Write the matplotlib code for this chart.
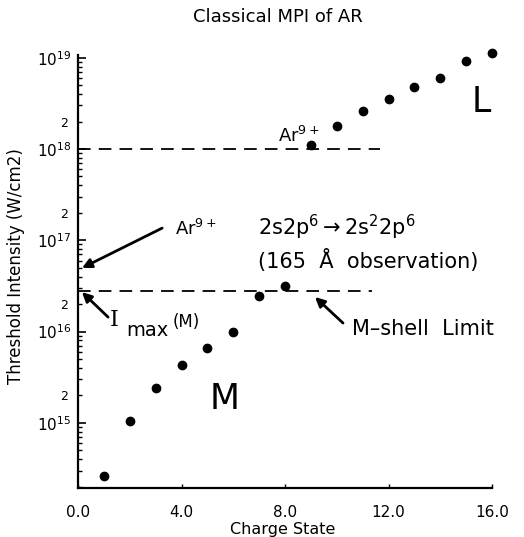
import numpy as np
import matplotlib
matplotlib.use("Agg")
import matplotlib.pyplot as plt
from matplotlib.ticker import FixedLocator, FuncFormatter, LogLocator

# Threshold intensity for each argon charge state
charge = [1, 2, 3, 4, 5, 6, 7, 8, 9, 10, 11, 12, 13, 14, 15, 16]
intensity = [2.6e14, 1.05e15, 2.4e15, 4.3e15, 6.6e15, 9.8e15, 2.45e16, 3.15e16,
             1.1e18, 1.8e18, 2.6e18, 3.5e18, 4.8e18, 6.0e18, 9.3e18, 1.12e19]

# horizontal dashed reference levels and where they stop
ref_levels = [1.0e18, 2.8e16]
ref_ends = [11.66, 11.35]

x_ticks = [0, 4, 8, 12, 16]
x_tick_labels = ["0.0", "4.0", "8.0", "12.0", "16.0"]

fig = plt.figure(figsize=(5.24, 5.37), dpi=100)
ax = fig.add_axes([0.149, 0.0912, 0.790, 0.8064])

ax.plot(charge, intensity, "o", color="black", markersize=6, clip_on=False)

for lev, end in zip(ref_levels, ref_ends):
    ax.plot([0, end], [lev, lev], color="black", lw=1.3, dashes=(7, 4.5))

ax.set_yscale("log")
ax.set_xlim(0, 16)
ax.set_ylim(10 ** 14.286, 10 ** 19.03)

ax.set_xticks(x_ticks)
ax.set_xticklabels(x_tick_labels)
ax.xaxis.set_tick_params(direction="in", length=3, width=1, pad=12, labelsize=11)

ax.yaxis.set_major_locator(FixedLocator([1e15, 1e16, 1e17, 1e18, 1e19]))
ax.yaxis.set_major_formatter(FuncFormatter(lambda v, p: r"$10^{%d}$" % round(np.log10(v))))
ax.yaxis.set_minor_locator(LogLocator(base=10, subs=np.arange(2, 10)))


def minor_label(v, p):
    m = v / 10 ** np.floor(np.log10(v) + 1e-9)
    if abs(m - 2) < 0.01 and v > 1e15:
        return "2"
    return ""


ax.yaxis.set_minor_formatter(FuncFormatter(minor_label))
ax.yaxis.set_tick_params(which="major", direction="in", length=6, width=1.2, pad=5, labelsize=11)
ax.yaxis.set_tick_params(which="minor", direction="in", length=3, width=1, pad=7, labelsize=9)

ax.spines[["top", "right"]].set_visible(False)
ax.spines[["left", "bottom"]].set_linewidth(1.6)

ax.set_xlabel("Charge State", fontsize=11.5)
ax.xaxis.set_label_coords(0.495, -0.078)
ax.set_ylabel("Threshold Intensity (W/cm2)", fontsize=12)
ax.yaxis.set_label_coords(-0.128, 0.513)

fig.text(0.53, 0.968, "Classical MPI of AR", ha="center", va="center", fontsize=13)

# annotations
ax.text(3.75, 1.14e17, r"Ar$^{9+}$", fontsize=13, va="baseline")
ax.text(6.96, 1.14e17, r"2s2p$^{6}$$\rightarrow$2s$^{2}$2p$^{6}$", fontsize=15, va="baseline")
ax.text(6.96, 4.97e16, "(165  Å  observation)", fontsize=15, va="baseline")
ax.text(10.59, 9.16e15, "M\u2013shell  Limit", fontsize=15, va="baseline")
ax.text(5.10, 1.42e15, "M", fontsize=25, va="baseline")
ax.text(15.23, 2.54e18, "L", fontsize=25, va="baseline")
ax.text(7.73, 1.19e18, r"Ar$^{9+}$", fontsize=13, va="baseline")
ax.text(1.24, 1.15e16, "I", fontsize=16, family="DejaVu Serif", va="baseline")
ax.text(1.85, 8.9e15, "max", fontsize=14, va="baseline")
ax.text(3.67, 1.12e16, "(M)", fontsize=12, va="baseline")

arrow = dict(arrowstyle="-|>", color="black", lw=2, mutation_scale=14, shrinkA=0, shrinkB=0)
ax.annotate("", xy=(0.15, 4.97e16), xytext=(3.25, 1.36e17), arrowprops=arrow)
ax.annotate("", xy=(0.15, 2.71e16), xytext=(1.16, 1.44e16), arrowprops=arrow)
ax.annotate("", xy=(9.16, 2.39e16), xytext=(10.24, 1.24e16), arrowprops=arrow)

fig.patch.set_facecolor("white")
plt.savefig("out.png", dpi=100)
